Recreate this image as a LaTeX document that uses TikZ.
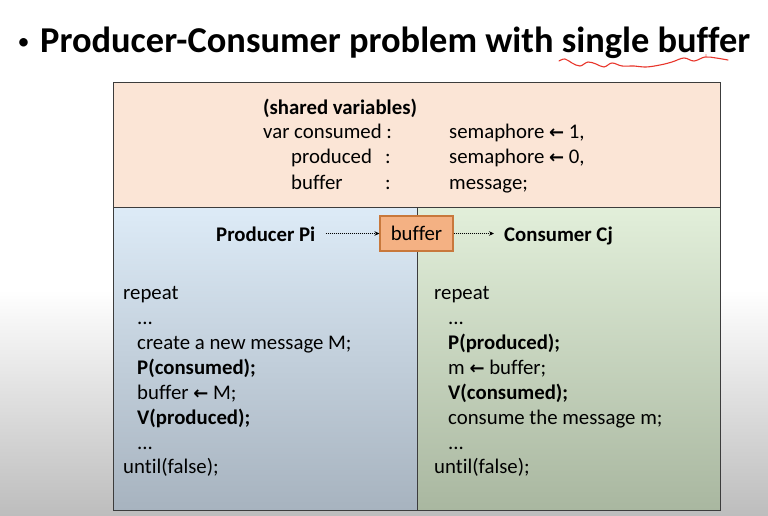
\documentclass[tikz,border=0pt]{standalone}
\usepackage{fontspec}
\setmainfont{Carlito}[Ligatures=NoCommon]
\newfontfamily\arrowfont{DejaVu Sans}
\usetikzlibrary{arrows.meta}
\definecolor{peach}{HTML}{FBE5D6}
\definecolor{bluetop}{HTML}{DDEBF7}
\definecolor{bluebot}{HTML}{A7B3BF}
\definecolor{greentop}{HTML}{E2EFDA}
\definecolor{greenbot}{HTML}{A9B7A0}
\definecolor{buforange}{HTML}{F4B183}
\definecolor{bufedge}{HTML}{C8783C}
\definecolor{edgegray}{HTML}{3C3C3C}
\definecolor{scribble}{HTML}{E8352B}
\newcommand{\la}{{\arrowfont\bfseries\fontsize{18}{18}\selectfont ←}}
\begin{document}
\begin{tikzpicture}[x=1pt,y=-1pt,
  txt/.style={anchor=base west,inner sep=0pt,font=\fontsize{20.8}{21}\selectfont},
  btxt/.style={txt,font=\fontsize{20.8}{21}\selectfont\bfseries},
  flow/.style={densely dotted,line width=1pt,-{Stealth[length=5pt,width=4.5pt]}},
  box/.style={draw=edgegray,line width=0.9pt}]
\useasboundingbox (0,0) rectangle (768,516);
% slide background with darkening towards bottom
\fill[white] (0,0) rectangle (768,516);
\shade[top color=white,bottom color=white!74!black] (0,290) rectangle (768,516);
% title
\node[anchor=base,inner sep=0pt,font=\fontsize{24}{24}\selectfont] (bullet) at (23.5,50) {•};
\node[anchor=base west,inner sep=0pt,font=\fontsize{36.4}{36}\selectfont\bfseries] (title) at (40,53) {Producer-Consumer problem with single buffer};
\draw[scribble,line width=1.1pt,line cap=round] plot[smooth,tension=0.6] coordinates {(559,61) (565,59) (572,63) (580,66) (588,62) (596,64) (604,67) (612,63) (622,66) (634,66) (646,67) (660,65) (672,62) (684,58) (694,61) (705,57) (716,58) (728,60)};
\fill[scribble] (706,55) circle (0.7pt);
% panels
\fill[peach] (113,82) rectangle (720,207);
\shade[top color=bluetop,bottom color=bluebot] (113,207) rectangle (417,510);
\shade[top color=greentop,bottom color=greenbot] (417,207) rectangle (720,510);
\draw[box] (113,82) rectangle (720,510);
\draw[box] (113,207) -- (720,207);
\draw[box] (417,207) -- (417,510);
% shared variables
\node[btxt] (sv) at (263,114) {(shared variables)};
\node[txt] (v1) at (263,139) {var consumed :};
\node[txt] (v2) at (291,164) {produced};
\node[txt] (c2) at (385,164) {:};
\node[txt] (v3) at (291,189) {buffer};
\node[txt] (c3) at (385,189) {:};
\node[txt] (t1) at (449,139) {semaphore \la{} 1,};
\node[txt] (t2) at (449,164) {semaphore \la{} 0,};
\node[txt] (t3) at (449,189) {message;};
% flow row
\node[btxt] (prod) at (216,241) {Producer Pi};
\node[draw=bufedge,line width=1.1pt,fill=buforange,minimum width=73pt,minimum height=35pt,inner sep=0pt,font=\fontsize{20.8}{21}\selectfont] (buf) at (416.5,233.5) {buffer};
\node[btxt] (cons) at (504,241) {Consumer Cj};
\draw[flow] ([xshift=10pt]prod.east |- buf.west) -- (buf.west);
\draw[flow] (buf.east) -- ([xshift=-10pt]cons.west |- buf.east);
% producer code
\node[txt] (p0) at (123,299) {repeat};
\node[txt] (p1) at (137,324) {...};
\node[txt] (p2) at (137,349) {create a new message M;};
\node[btxt] (p3) at (137,374) {P(consumed);};
\node[txt] (p4) at (137,399) {buffer \la{} M;};
\node[btxt] (p5) at (137,424) {V(produced);};
\node[txt] (p6) at (137,449) {...};
\node[txt] (p7) at (123,473) {until(false);};
% consumer code
\node[txt] (q0) at (434,299) {repeat};
\node[txt] (q1) at (448,324) {...};
\node[btxt] (q2) at (448,349) {P(produced);};
\node[txt] (q3) at (448,374) {m \la{} buffer;};
\node[btxt] (q4) at (448,399) {V(consumed);};
\node[txt] (q5) at (448,424) {consume the message m;};
\node[txt] (q6) at (448,449) {...};
\node[txt] (q7) at (434,473) {until(false);};
\end{tikzpicture}
\end{document}
